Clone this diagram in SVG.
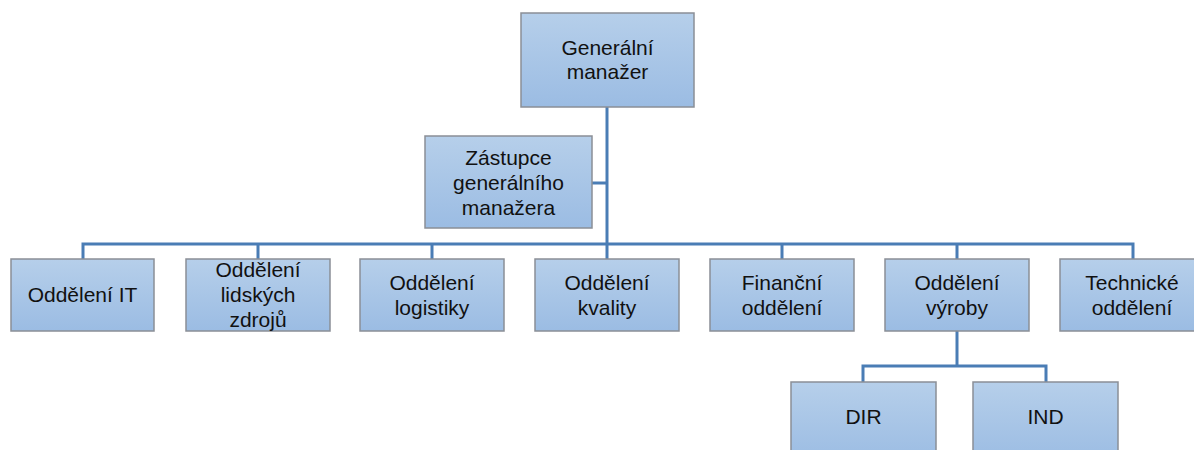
<svg xmlns="http://www.w3.org/2000/svg" width="1194" height="450" viewBox="0 0 1194 450">
<defs>
<linearGradient id="g" x1="0" y1="0" x2="0" y2="1">
<stop offset="0" stop-color="#b6cfea"/>
<stop offset="1" stop-color="#9bbce3"/>
</linearGradient>
</defs>
<style>
.box{fill:url(#g);stroke:#8a8f96;stroke-width:1.5}
.t{font-family:"Liberation Sans",Arial,sans-serif;font-size:21px;fill:#111;text-anchor:middle}
.c{fill:none;stroke:#4a7db5;stroke-width:3}
</style>
<rect width="1194" height="450" fill="#fff"/>
<g id="connectors" class="c">
<path d="M607 107V244"/>
<path d="M592 183H607"/>
<path d="M83 259V244H1133V259"/>
<path d="M258 244V259M432 244V259M607 244V259M782 244V259M957 244V259"/>
<path d="M957 331V366"/>
<path d="M863 382V366H1046V382"/>
</g>
<g id="n_gm"><rect class="box" x="521" y="13" width="173" height="94"/>
<text class="t" x="607.5" y="55">Generální</text><text class="t" x="607.5" y="79">manažer</text></g>
<g id="n_zast"><rect class="box" x="425" y="136" width="167" height="92"/>
<text class="t" x="508.5" y="165">Zástupce</text><text class="t" x="508.5" y="190">generálního</text><text class="t" x="508.5" y="215">manažera</text></g>
<g id="n_it"><rect class="box" x="11" y="259" width="143" height="72"/>
<text class="t" x="82.5" y="302">Oddělení IT</text></g>
<g id="n_lz"><rect class="box" x="186" y="259" width="144" height="72"/>
<text class="t" x="258" y="277">Oddělení</text><text class="t" x="258" y="302">lidských</text><text class="t" x="258" y="327">zdrojů</text></g>
<g id="n_log"><rect class="box" x="360" y="259" width="144" height="72"/>
<text class="t" x="432" y="290">Oddělení</text><text class="t" x="432" y="315">logistiky</text></g>
<g id="n_kval"><rect class="box" x="535" y="259" width="144" height="72"/>
<text class="t" x="607" y="290">Oddělení</text><text class="t" x="607" y="315">kvality</text></g>
<g id="n_fin"><rect class="box" x="710" y="259" width="144" height="72"/>
<text class="t" x="782" y="290">Finanční</text><text class="t" x="782" y="315">oddělení</text></g>
<g id="n_vyr"><rect class="box" x="885" y="259" width="144" height="72"/>
<text class="t" x="957" y="290">Oddělení</text><text class="t" x="957" y="315">výroby</text></g>
<g id="n_tech"><rect class="box" x="1060" y="259" width="144" height="72"/>
<text class="t" x="1132" y="290">Technické</text><text class="t" x="1132" y="315">oddělení</text></g>
<g id="n_dir"><rect class="box" x="791" y="382" width="145" height="80"/>
<text class="t" x="863.5" y="424">DIR</text></g>
<g id="n_ind"><rect class="box" x="973" y="382" width="145" height="80"/>
<text class="t" x="1045.5" y="424">IND</text></g>
</svg>
